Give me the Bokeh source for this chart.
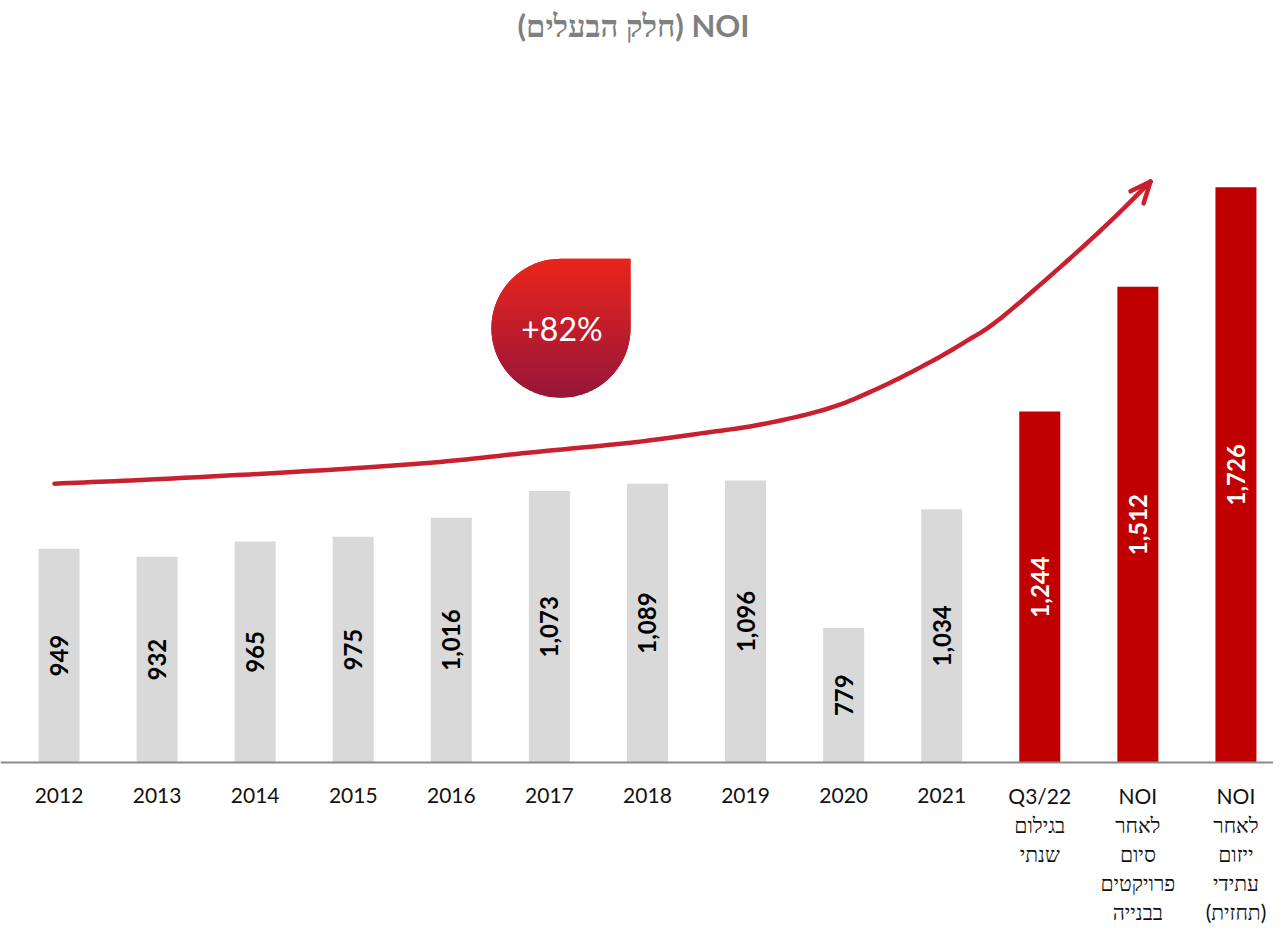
import numpy as np
from bokeh.plotting import figure
from bokeh.models import Range1d, Span
from bokeh.core.properties import value
from bokeh.embed import file_html
from bokeh.resources import INLINE

# ---------------- data ----------------
title_text = "\u202bNOI (חלק הבעלים)\u202c"
category_lines = [
    ["2012"], ["2013"], ["2014"], ["2015"], ["2016"],
    ["2017"], ["2018"], ["2019"], ["2020"], ["2021"],
    ["Q3/22", "בגילום", "שנתי"],
    ["NOI", "לאחר", "סיום", "פרויקטים", "בבנייה"],
    ["NOI", "לאחר", "ייזום", "עתידי", "(תחזית)"],
]
noi_values = [949, 932, 965, 975, 1016, 1073, 1089, 1096, 779, 1034, 1244, 1512, 1726]
is_forecast = [False] * 10 + [True] * 3
growth_label = "+82%"

# decorative growth arrow guide points (category position, value units)
arrow_x = [-0.046, 0.933, 2.462, 3.788, 4.807, 5.827, 6.541, 7.152, 7.836,
           8.345, 8.855, 9.242, 9.599, 10.282, 10.751, 11.129]
arrow_v = [1089, 1098, 1115, 1134, 1156, 1177, 1197, 1216, 1250,
           1293, 1347, 1394, 1444, 1568, 1659, 1738]
arrow_barbs = [(10.925, 1717), (11.058, 1691)]

# drop badge (centre in category/value units, radii in same units)
badge_cx, badge_cv = 5.118, 1423
badge_rx, badge_rv = 0.7086, 149.3

BASE = 490  # value axis starts here

GRAY = "#D9D9D9"
RED = "#C00000"
ARROW_RED = "#C8202E"
FONT = value("Lato")

# ---------------- figure ----------------
p = figure(width=1273, height=925,
           x_range=Range1d(-0.5965, 12.383), y_range=Range1d(139.8, 2127.0),
           x_axis_type=None, y_axis_type=None,
           output_backend="svg", toolbar_location=None,
           min_border=0, min_border_left=0, min_border_right=0,
           min_border_top=0, min_border_bottom=0,
           outline_line_color=None, background_fill_color="white")
p.grid.visible = False

idx = list(range(len(noi_values)))
colors = [RED if f else GRAY for f in is_forecast]
p.vbar(x=idx, top=noi_values, bottom=BASE, width=0.418,
       fill_color=colors, line_color=None)

p.add_layout(Span(location=BASE, dimension="width",
                  line_color="#8a8a8a", line_width=2))

# value labels inside bars
p.text(x=idx, y=[(BASE + v) / 2 for v in noi_values],
       text=[f"{v:,}" for v in noi_values],
       angle=np.pi / 2, text_align="center", text_baseline="middle",
       text_font=FONT, text_font_style="bold", text_font_size="24px",
       text_color=["white" if f else "black" for f in is_forecast])

# category labels (multi-line)
max_lines = max(len(l) for l in category_lines)
for k in range(max_lines):
    xs, ts = [], []
    for i, lines in enumerate(category_lines):
        if k < len(lines):
            xs.append(i)
            ts.append(lines[k])
    p.text(x=xs, y=[BASE] * len(xs), text=ts, y_offset=33 + 29 * k,
           text_align="center", text_baseline="middle",
           text_font=FONT, text_font_size="21px", text_color="#111111")

# title
p.text(x=[5.858], y=[2075], text=[title_text], text_align="center",
       text_baseline="middle", text_font=FONT, text_font_style="bold",
       text_font_size="31px", text_color="#808080")

# growth arrow: smooth Catmull-Rom path through the guide points
def catmull_rom(xs, ys, n=12):
    sx, sy = 98.08, 0.4655
    P = np.column_stack([np.array(xs) * sx, np.array(ys) * sy])
    P = np.vstack([P[0] - (P[1] - P[0]), P, P[-1] + (P[-1] - P[-2])])
    out = []
    for i in range(1, len(P) - 2):
        p0, p1, p2, p3 = P[i - 1], P[i], P[i + 1], P[i + 2]
        for t in np.linspace(0, 1, n, endpoint=False):
            t2, t3 = t * t, t * t * t
            pt = 0.5 * ((2 * p1) + (-p0 + p2) * t +
                        (2 * p0 - 5 * p1 + 4 * p2 - p3) * t2 +
                        (-p0 + 3 * p1 - 3 * p2 + p3) * t3)
            out.append(pt)
    out.append(P[-2])
    out = np.array(out)
    return out[:, 0] / sx, out[:, 1] / sy

cx_, cy_ = catmull_rom(arrow_x, arrow_v)
p.line(cx_, cy_, line_color=ARROW_RED, line_width=4.5,
       line_join="round", line_cap="round")
p.segment(x0=[arrow_x[-1]] * 2, y0=[arrow_v[-1]] * 2,
          x1=[b[0] for b in arrow_barbs], y1=[b[1] for b in arrow_barbs],
          line_color=ARROW_RED, line_width=4.5, line_cap="round")

# drop badge with vertical gradient (strips)
def half_width(v):
    d = (v - badge_cv) / badge_rv
    return badge_rx * np.sqrt(max(0.0, 1 - d * d))

def left_x(v):
    return badge_cx - half_width(v)

def right_x(v):
    return badge_cx + badge_rx if v >= badge_cv else badge_cx + half_width(v)

vs_full = np.linspace(badge_cv + badge_rv, badge_cv - badge_rv, 120)
outline_x = [left_x(v) for v in vs_full] + [right_x(v) for v in vs_full[::-1]]
outline_v = list(vs_full) + list(vs_full[::-1])
p.patch(outline_x, outline_v, fill_color="#C41C2B", line_color=None)

top_rgb = np.array([233, 38, 28])
bot_rgb = np.array([152, 22, 58])
N = 70
h = 2 * badge_rv / N
sxs, svs, scol = [], [], []
for k in range(N):
    vt = badge_cv + badge_rv - k * h
    vb = max(badge_cv - badge_rv, vt - h * 1.6)
    vv = np.linspace(vt, vb, 5)
    sx = [left_x(v) for v in vv] + [right_x(v) for v in vv[::-1]]
    sv = list(vv) + list(vv[::-1])
    t = k / (N - 1)
    c = (top_rgb * (1 - t) + bot_rgb * t).astype(int)
    sxs.append(sx)
    svs.append(sv)
    scol.append("#%02x%02x%02x" % tuple(c))
p.patches(sxs, svs, fill_color=scol, line_color=None)

p.text(x=[badge_cx + 0.01], y=[badge_cv], text=[growth_label],
       text_align="center", text_baseline="middle",
       text_font=FONT, text_font_size="32px", text_color="white")

open("out.html", "w").write(file_html(p, INLINE))
